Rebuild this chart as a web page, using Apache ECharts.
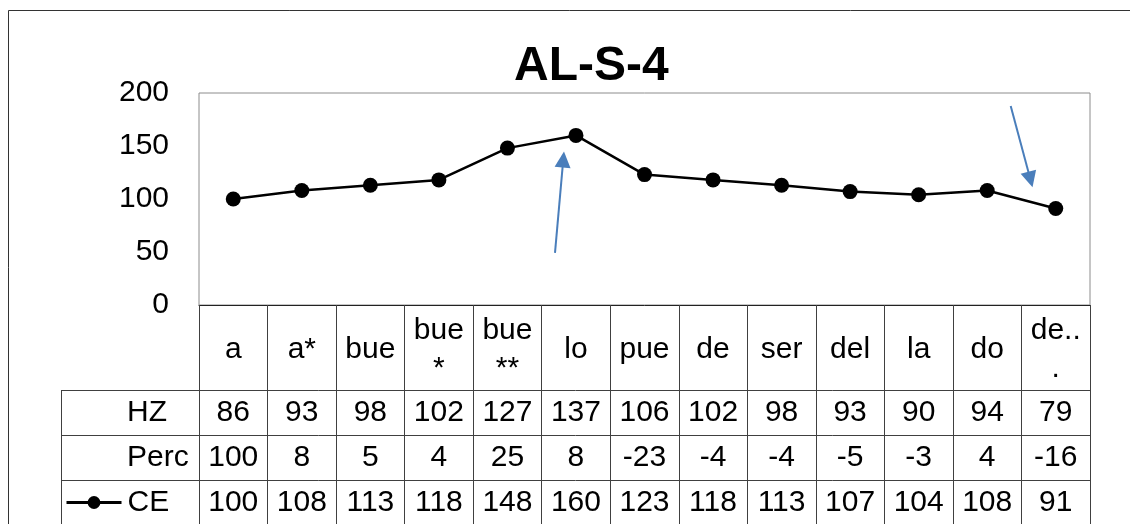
<!DOCTYPE html>
<html>
<head>
<meta charset="utf-8">
<title>AL-S-4</title>
<script src="https://cdn.jsdelivr.net/npm/echarts@6/dist/echarts.min.js"></script>
<style>
  html, body { margin: 0; padding: 0; background: #fff; }
  #chart { width: 1130px; height: 524px; }
</style>
</head>
<body>
<div id="chart"></div>
<script>
// Syllables along the utterance
const categories = ['a', 'a*', 'bue', 'bue*', 'bue**', 'lo', 'pue', 'de', 'ser', 'del', 'la', 'do', 'de...'];
// Fundamental frequency per syllable
const hz = [86, 93, 98, 102, 127, 137, 106, 102, 98, 93, 90, 94, 79];
// Percentage change from the previous syllable
const perc = [100, 8, 5, 4, 25, 8, -23, -4, -4, -5, -3, 4, -16];
// Cumulative index (plotted line)
const ce = [100, 108, 113, 118, 148, 160, 123, 118, 113, 107, 104, 108, 91];
// Value axis ticks
const yTicks = [0, 50, 100, 150, 200];
// Annotation arrows, [category position, value] from tail to head
const arrowPeak = [[4.694, 49.1], [4.815, 137.3]];
const arrowFinal = [[11.343, 187.7], [11.631, 118.4]];

const FONT = '"Liberation Sans", Arial, sans-serif';
const FS = 30;

// Layout of the plot and the data table below it
const G = { left: 199, top: 93, width: 891, height: 212 };
const HEADER_H = 85;
const ROW_H = 45;
const TABLE_LEFT = 61;
const plotBottom = G.top + G.height;
const rowTop = i => plotBottom + HEADER_H + i * ROW_H;
const rowCenterOffset = i => HEADER_H + i * ROW_H + ROW_H / 2;

function tableRowAxis(values, idx, name) {
  const ax = {
    type: 'category',
    gridIndex: 0,
    position: 'bottom',
    offset: rowCenterOffset(idx),
    data: values.map(String),
    axisLine: { show: false },
    axisTick: { show: false },
    splitLine: { show: false },
    axisLabel: {
      interval: 0, margin: 0, verticalAlign: 'middle',
      fontSize: FS, fontFamily: FONT, color: '#000'
    }
  };
  if (name) {
    ax.name = name;
    ax.nameLocation = 'start';
    ax.nameGap = G.left - (TABLE_LEFT + 66);
    ax.nameTextStyle = { align: 'left', verticalAlign: 'middle', fontSize: FS, fontFamily: FONT, color: '#000' };
  }
  return ax;
}

const chart = echarts.init(document.getElementById('chart'), null, { renderer: 'canvas' });

const lineColor = '#404040';
const tableBottom = 524 + 20;

const graphics = [
  // outer frame of the chart area
  { type: 'rect', shape: { x: 8.5, y: 10.5, width: 1200, height: 600 },
    style: { fill: 'none', stroke: '#333', lineWidth: 1 }, silent: true, z: 0 },
  // left edge of the row-label column
  { type: 'line', shape: { x1: TABLE_LEFT + 0.5, y1: rowTop(0), x2: TABLE_LEFT + 0.5, y2: tableBottom },
    style: { stroke: lineColor, lineWidth: 1 }, silent: true }
];
for (let i = 0; i < 3; i++) {
  const y = rowTop(i) + 0.5;
  graphics.push({ type: 'line', shape: { x1: TABLE_LEFT, y1: y, x2: G.left + G.width, y2: y },
    style: { stroke: lineColor, lineWidth: 1 }, silent: true });
}

chart.setOption({
  animation: false,
  textStyle: { fontFamily: FONT },
  title: {
    text: 'AL-S-4',
    left: 514, top: 43, padding: 0,
    textStyle: { fontSize: 48, fontWeight: 'bold', fontFamily: FONT, color: '#000' }
  },
  legend: {
    data: ['CE'],
    left: 65, top: plotBottom + rowCenterOffset(2) - 15, padding: 0,
    itemWidth: 55, itemHeight: 16,
    lineStyle: { width: 3 },
    textStyle: { fontSize: FS, fontFamily: FONT, color: '#000', padding: [0, 0, 0, 1] },
    selectedMode: false
  },
  grid: {
    left: G.left, top: G.top, width: G.width, height: G.height,
    show: true, borderColor: '#8c8c8c', borderWidth: 1, backgroundColor: 'transparent'
  },
  xAxis: [
    {
      type: 'category',
      data: categories,
      boundaryGap: true,
      position: 'bottom',
      axisLine: { show: true, lineStyle: { color: '#222', width: 1 } },
      axisTick: { show: true, interval: 0, length: tableBottom - plotBottom, lineStyle: { color: lineColor, width: 1 } },
      axisLabel: {
        interval: 0, margin: HEADER_H / 2 + 2, verticalAlign: 'middle',
        fontSize: FS, fontFamily: FONT, color: '#000', lineHeight: 38,
        width: 55, overflow: 'breakAll'
      },
      splitLine: { show: false }
    },
    tableRowAxis(hz, 0, 'HZ'),
    tableRowAxis(perc, 1, 'Perc'),
    tableRowAxis(ce, 2, null),
    // continuous axis over the same span, used to place the annotation arrows
    { type: 'value', gridIndex: 0, min: -0.5, max: categories.length - 0.5, show: false }
  ],
  yAxis: {
    type: 'value',
    min: yTicks[0], max: yTicks[yTicks.length - 1], interval: yTicks[1] - yTicks[0],
    axisLine: { show: false },
    axisTick: { show: false },
    splitLine: { show: false },
    axisLabel: { fontSize: FS, fontFamily: FONT, color: '#000', margin: 30 }
  },
  series: [
    {
      name: 'CE',
      type: 'line',
      xAxisIndex: 0,
      data: ce,
      symbol: 'circle',
      symbolSize: 15,
      color: '#000',
      lineStyle: { color: '#000', width: 2.5 },
      itemStyle: { color: '#000' },
      z: 5
    },
    {
      name: 'arrows',
      type: 'lines',
      coordinateSystem: 'cartesian2d',
      xAxisIndex: 4,
      yAxisIndex: 0,
      symbol: ['none', 'triangle'],
      symbolSize: 16,
      lineStyle: { color: '#4a7ebb', width: 2, opacity: 1 },
      data: [ { coords: arrowPeak }, { coords: arrowFinal } ],
      z: 6
    }
  ],
  graphic: graphics
});
</script>
</body>
</html>
